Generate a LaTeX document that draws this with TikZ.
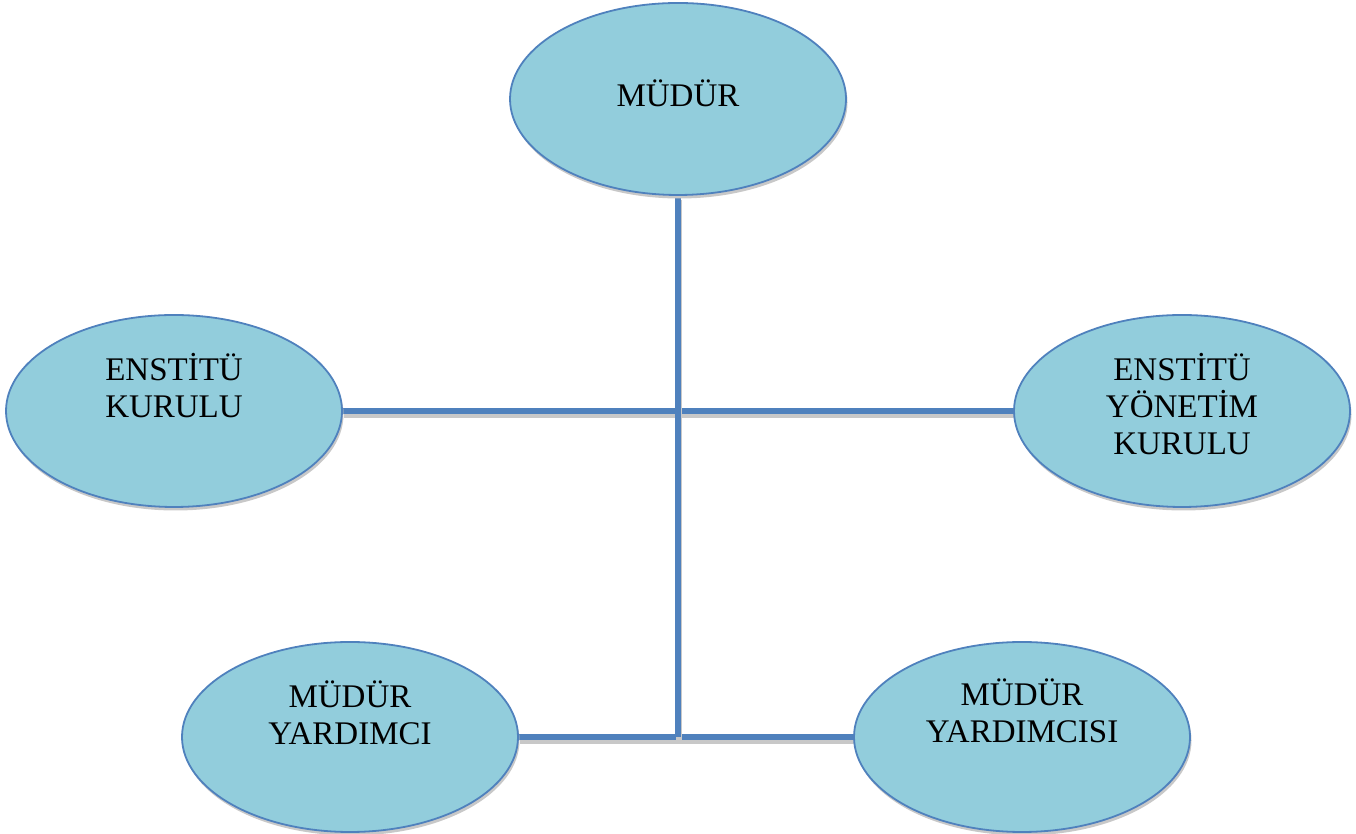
\documentclass[tikz,border=0pt]{standalone}
\usepackage{fontspec}
\setmainfont{Liberation Serif}
\usetikzlibrary{shapes.geometric,shadows,backgrounds}
\definecolor{ovalfill}{HTML}{92CDDC}
\definecolor{ovalline}{HTML}{4F81BD}
\definecolor{shadowgray}{HTML}{C8C8C8}
\tikzset{
  oval/.style={ellipse, draw=ovalline, line width=1.8pt, fill=ovalfill,
    minimum width=336pt, minimum height=192pt, inner sep=0pt,
    drop shadow={shadow xshift=1.5pt, shadow yshift=-3.5pt, fill=shadowgray, opacity=1}},
  label text/.style={align=center, anchor=base, inner sep=0pt,
    font=\fontsize{33pt}{37pt}\selectfont},
  conn/.style={draw=ovalline, line width=5.5pt,
    preaction={draw=shadowgray, line width=5.5pt, transform canvas={xshift=1pt, yshift=-4pt}}}
}
\begin{document}
\begin{tikzpicture}[x=1pt,y=1pt]
\useasboundingbox (0,0) rectangle (1356,834);
\node[oval] (mudur) at (678,735) {};
\node[oval] (ek) at (174,423) {};
\node[oval] (eyk) at (1182,423) {};
\node[oval, minimum height=190pt] (my1) at (350,97) {};
\node[oval, minimum height=190pt] (my2) at (1022,97) {};
\node[label text] (t1) at (678,727) {MÜDÜR};
\node[label text] (t2) at (174,416) {ENSTİTÜ\\KURULU};
\node[label text] (t3) at (1182,379) {ENSTİTÜ\\YÖNETİM\\KURULU};
\node[label text] (t4) at (350,89) {MÜDÜR\\YARDIMCI};
\node[label text] (t5) at (1022,91) {MÜDÜR\\YARDIMCISI};
\coordinate (jbot) at (678,97);
\begin{pgfonlayer}{background}
\draw[conn] (ek.east) -- (eyk.west);
\draw[conn] (my1.east) -- (my2.west);
\draw[conn] (mudur.south) -- (jbot);
\end{pgfonlayer}
\end{tikzpicture}
\end{document}
